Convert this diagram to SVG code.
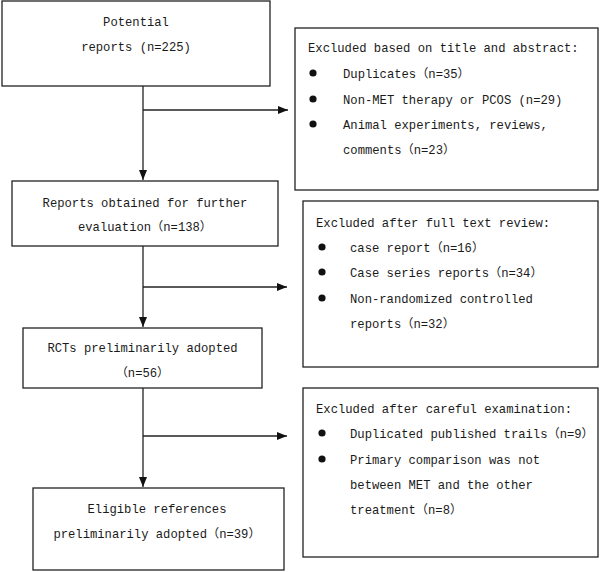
<svg xmlns="http://www.w3.org/2000/svg" width="600" height="572" viewBox="0 0 600 572">
<defs>
<marker id="ah" markerUnits="userSpaceOnUse" markerWidth="10" markerHeight="8" refX="10" refY="4" orient="auto">
<path d="M0,0 L10,4 L0,8 Z" fill="#111"/>
</marker>
<style>
.box{fill:#fff;stroke:#222;stroke-width:1.3}
.ln{fill:none;stroke:#222;stroke-width:1.3}
text{font-family:"Liberation Mono","Noto Sans CJK SC",monospace;font-size:12.2px;fill:#1a1a1a}
.c{text-anchor:middle}
.b{fill:#111}
</style>
</defs>
<rect width="600" height="572" fill="#fff"/>
<g id="connectors">
<path class="ln" d="M143,86 V180" marker-end="url(#ah)"/>
<path class="ln" d="M143,110 H288" marker-end="url(#ah)"/>
<path class="ln" d="M143,246 V327" marker-end="url(#ah)"/>
<path class="ln" d="M143,287 H287" marker-end="url(#ah)"/>
<path class="ln" d="M143,388 V487" marker-end="url(#ah)"/>
<path class="ln" d="M143,436 H287" marker-end="url(#ah)"/>
</g>
<g id="potential">
<rect class="box" x="2" y="1" width="268" height="85"/>
<text class="c" x="136" y="26">Potential</text>
<text class="c" x="136" y="51">reports (n=225)</text>
</g>
<g id="excluded1">
<rect class="box" x="295" y="28" width="303" height="162"/>
<text x="308" y="52">Excluded based on title and abstract:</text>
<circle class="b" cx="313" cy="73" r="3.6"/>
<text x="343" y="78">Duplicates（n=35）</text>
<circle class="b" cx="313" cy="99" r="3.6"/>
<text x="343" y="104">Non-MET therapy or PCOS (n=29)</text>
<circle class="b" cx="313" cy="124" r="3.6"/>
<text x="343" y="129">Animal experiments, reviews,</text>
<text x="343" y="154">comments（n=23）</text>
</g>
<g id="obtained">
<rect class="box" x="12" y="181" width="266" height="65"/>
<text class="c" x="145" y="207">Reports obtained for further</text>
<text class="c" x="145" y="231">evaluation（n=138）</text>
</g>
<g id="excluded2">
<rect class="box" x="303" y="201" width="295" height="166"/>
<text x="316" y="227">Excluded after full text review:</text>
<circle class="b" cx="322" cy="247" r="3.6"/>
<text x="350" y="252">case report（n=16）</text>
<circle class="b" cx="322" cy="272" r="3.6"/>
<text x="350" y="277">Case series reports（n=34）</text>
<circle class="b" cx="322" cy="298" r="3.6"/>
<text x="350" y="303">Non-randomized controlled</text>
<text x="350" y="328">reports（n=32）</text>
</g>
<g id="rcts">
<rect class="box" x="23" y="328" width="239" height="60"/>
<text class="c" x="142.5" y="352">RCTs preliminarily adopted</text>
<text class="c" x="142.5" y="377">（n=56）</text>
</g>
<g id="excluded3">
<rect class="box" x="303" y="388" width="295" height="169"/>
<text x="316" y="413">Excluded after careful examination:</text>
<circle class="b" cx="322" cy="433" r="3.6"/>
<text x="350" y="438">Duplicated published trails（n=9）</text>
<circle class="b" cx="322" cy="459" r="3.6"/>
<text x="350" y="464">Primary comparison was not</text>
<text x="350" y="489">between MET and the other</text>
<text x="350" y="514">treatment（n=8）</text>
</g>
<g id="eligible">
<rect class="box" x="33" y="488" width="251" height="82"/>
<text class="c" x="157" y="513">Eligible references</text>
<text class="c" x="157" y="538">preliminarily adopted（n=39）</text>
</g>
</svg>
